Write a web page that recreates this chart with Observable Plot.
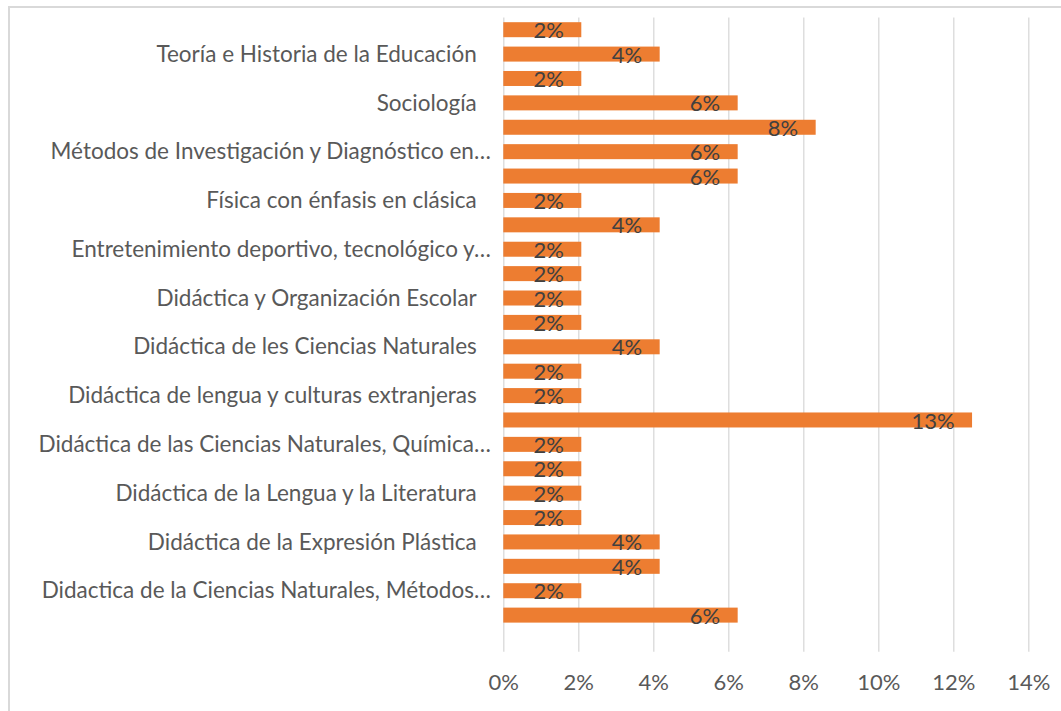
<!DOCTYPE html>
<html>
<head>
<meta charset="utf-8">
<script src="https://cdn.jsdelivr.net/npm/d3@7"></script>
<script src="https://cdn.jsdelivr.net/npm/@observablehq/plot@0.6"></script>
<style>
  html, body { margin: 0; padding: 0; background: #fff; overflow: hidden; }
  #wrap { position: relative; width: 1061px; height: 711px; }
  #border { position: absolute; left: 8px; top: 6px; width: 1100px; height: 800px;
            border-top: 2px solid #d9d9d9; border-left: 2px solid #d9d9d9; box-sizing: border-box; }
  #chart { position: absolute; left: 0; top: 0; }
</style>
</head>
<body>
<div id="wrap"><div id="border"></div><div id="chart"></div></div>
<script>
// Categories from top to bottom (Excel shows every other label; hidden ones are blank here)
const categories = [
  "", "Teoría e Historia de la Educación",
  "", "Sociología",
  "", "Métodos de Investigación y Diagnóstico en…",
  "", "Física con énfasis en clásica",
  "", "Entretenimiento deportivo, tecnológico y…",
  "", "Didáctica y Organización Escolar",
  "", "Didáctica de les Ciencias Naturales",
  "", "Didáctica de lengua y culturas extranjeras",
  "", "Didáctica de las Ciencias Naturales, Química…",
  "", "Didáctica de la Lengua y la Literatura",
  "", "Didáctica de la Expresión Plástica",
  "", "Didactica de la Ciencias Naturales, Métodos…",
  "", ""
];
// Share of each category (top to bottom); the last category slot is empty
const shares = [
  0.0208, 0.0417, 0.0208, 0.0625, 0.0833, 0.0625, 0.0625, 0.0208, 0.0417,
  0.0208, 0.0208, 0.0208, 0.0208, 0.0417, 0.0208, 0.0208, 0.125, 0.0208,
  0.0208, 0.0208, 0.0208, 0.0417, 0.0417, 0.0208, 0.0625
];
const xTicks = [0, 0.02, 0.04, 0.06, 0.08, 0.10, 0.12, 0.14];

const rows = shares.map((v, i) => ({i, v}));
const idx = d3.range(categories.length);
const plainIdx = idx.filter(i => categories[i] && !categories[i].endsWith("…"));
const truncIdx = idx.filter(i => categories[i] && categories[i].endsWith("…"));
const pct = d3.format(".0%");

const chart = Plot.plot({
  width: 1061,
  height: 711,
  marginLeft: 503.3,
  marginRight: 32.7,
  marginTop: 17.5,
  marginBottom: 59.3,
  style: {fontFamily: "Lato, 'Open Sans', sans-serif", fontSize: "22px", color: "#595959", background: "transparent"},
  x: {domain: [0, 0.14], axis: null},
  y: {domain: idx, paddingInner: 0.385, paddingOuter: 0.1925, align: 0.5, round: false, axis: null},
  marks: [
    Plot.gridX(xTicks, {stroke: "#d9d9d9", strokeOpacity: 1, strokeWidth: 1.3}),
    Plot.barX(rows, {x: "v", y: "i", fill: "#ED7D31"}),
    Plot.text(rows, {x: "v", y: "i", text: d => pct(d.v), textAnchor: "end", dx: -18, dy: 1, fill: "#404040", fontSize: 22}),
    Plot.axisX(xTicks, {tickFormat: pct, tickSize: 0, tickPadding: 22, fill: "#595959", fontSize: 22, label: null}),
    Plot.axisY(plainIdx, {tickFormat: i => categories[i], tickSize: 0, tickPadding: 27, fill: "#595959", fontSize: 22.5, label: null}),
    Plot.axisY(truncIdx, {tickFormat: i => categories[i], tickSize: 0, tickPadding: 13, fill: "#595959", fontSize: 22.5, label: null})
  ]
});
document.getElementById("chart").appendChild(chart);
</script>
</body>
</html>
